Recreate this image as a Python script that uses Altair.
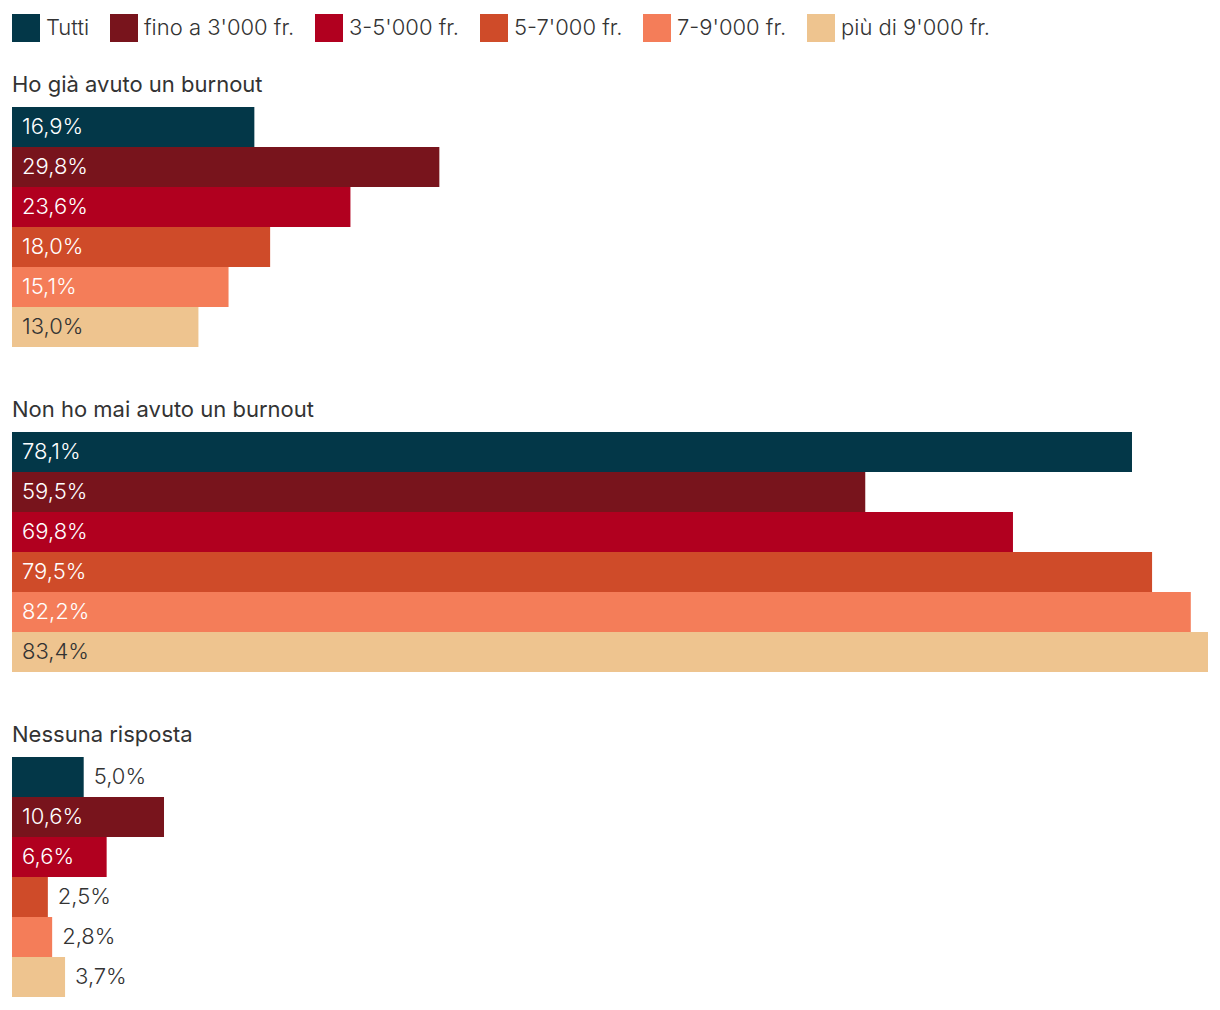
import altair as alt
import pandas as pd

categories = ["Tutti", "fino a 3'000 fr.", "3-5'000 fr.", "5-7'000 fr.", "7-9'000 fr.", "più di 9'000 fr."]
colors = ["#033748", "#78141c", "#b1001f", "#cf4b29", "#f47d59", "#eec48f"]
questions = ["Ho già avuto un burnout", "Non ho mai avuto un burnout", "Nessuna risposta"]
values_burnout = [16.9, 29.8, 23.6, 18.0, 15.1, 13.0]
values_never = [78.1, 59.5, 69.8, 79.5, 82.2, 83.4]
values_none = [5.0, 10.6, 6.6, 2.5, 2.8, 3.7]

all_values = [values_burnout, values_never, values_none]
xmax = max(max(v) for v in all_values)

FONT = "Inter"
DARK = "#333333"

def make_df(vals):
    rows = []
    for i, (c, v) in enumerate(zip(categories, vals)):
        inside = v > 6
        rows.append({
            "cat": c,
            "order": i,
            "value": v,
            "label": f"{v:.1f}".replace(".", ",") + "%",
            "label_x": 0 if inside else v,
            "tcolor": ("white" if (inside and c != categories[-1]) else DARK),
        })
    return pd.DataFrame(rows)

color_scale = alt.Scale(domain=categories, range=colors)
x_scale = alt.Scale(domain=[0, xmax], nice=False, zero=True)
y_enc = alt.Y("cat:N", sort=categories, axis=None,
              scale=alt.Scale(paddingInner=0, paddingOuter=0))

panels = []
for q, vals in zip(questions, all_values):
    df = make_df(vals)
    base = alt.Chart(df)
    bars = base.mark_bar(cornerRadius=0).encode(
        x=alt.X("value:Q", scale=x_scale, axis=None),
        y=y_enc,
        color=alt.Color("cat:N", scale=color_scale,
                        legend=alt.Legend(title=None)),
    )
    text = base.mark_text(align="left", baseline="middle", dx=10, fontSize=22,
                          font=FONT, fontWeight=300).encode(
        x=alt.X("label_x:Q", scale=x_scale, axis=None),
        y=y_enc,
        text="label:N",
        color=alt.Color("tcolor:N", scale=None),
    )
    panel = alt.layer(bars, text).properties(
        width=1196, height=240,
        title=alt.TitleParams(q, anchor="start", fontSize=22, font=FONT,
                              fontWeight=400, color=DARK, offset=10),
    )
    panels.append(panel)

chart = alt.vconcat(*panels, spacing=52).resolve_scale(
    color="shared"
).properties(
    padding={"left": 4, "top": 6, "right": 4, "bottom": 4}
).configure_view(stroke=None).configure_legend(
    orient="top",
    direction="horizontal",
    symbolType="square",
    symbolSize=784,
    symbolStrokeWidth=0,
    symbolOpacity=1,
    labelFontSize=22,
    labelFont=FONT,
    labelFontWeight=300,
    labelColor=DARK,
    labelOffset=6,
    columnPadding=20,
    padding=0,
    offset=32,
    labelLimit=400,
)

chart.save("out.html", embed_options={"renderer": "svg", "actions": False})
